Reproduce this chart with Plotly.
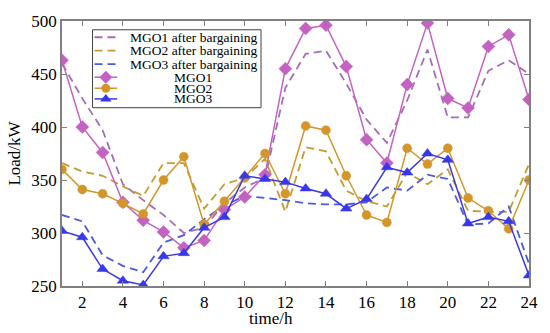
import plotly.graph_objects as go

hours = list(range(1, 25))

mgo1 = [463, 400, 376, 329, 312, 301, 286, 293, 322, 334, 355, 455,
        493, 496, 457, 388, 366, 440, 498, 427, 418, 476, 487, 426]
mgo1_bargain = [460, 427, 397, 346, 331, 317, 300, 305, 328, 343, 352, 437,
                469, 472, 441, 407, 385, 425, 473, 409, 409, 453, 463, 450]

mgo2 = [360, 341, 337, 328, 318, 350, 372, 308, 330, 352, 375, 337,
        401, 397, 354, 317, 310, 380, 365, 380, 333, 321, 304, 350]
mgo2_bargain = [366, 358, 354, 344, 335, 366, 366, 323, 346, 352, 370, 320,
                381, 377, 340, 330, 325, 357, 346, 360, 321, 320, 320, 365]

mgo3 = [302, 296, 266, 255, 251, 278, 281, 305, 315, 354, 351, 348,
        342, 337, 323, 332, 362, 357, 375, 369, 309, 315, 311, 260]
mgo3_bargain = [317, 311, 279, 269, 263, 291, 298, 313, 326, 335, 333, 331,
                328, 327, 327, 329, 343, 340, 355, 351, 308, 309, 325, 271]

x_ticks = list(range(2, 25, 2))
y_ticks = [250, 300, 350, 400, 450, 500]

series_names = ["MGO1 after bargaining", "MGO2 after bargaining", "MGO3 after bargaining",
                "MGO1", "MGO2", "MGO3"]

FONT = "Liberation Serif"
AX = "#808080"

c1, c1d = "#C462C2", "#A56CB8"
c2, c2d = "#D4962A", "#C39C30"
c3, c3d = "#3838E6", "#4A5AE2"
DASH = "8px,5px"

fig = go.Figure()

dashed = [(mgo1_bargain, c1d), (mgo2_bargain, c2d), (mgo3_bargain, c3d)]
solid = [(mgo1, c1, "diamond", 10), (mgo2, c2, "circle", 9), (mgo3, c3, "triangle-up", 10)]

for (vals, col), name in zip(dashed, series_names[:3]):
    fig.add_trace(go.Scatter(x=hours, y=vals, mode="lines", name=name,
                             line=dict(color=col, width=1.8, dash=DASH)))
for (vals, col, sym, sz), name in zip(solid, series_names[3:]):
    fig.add_trace(go.Scatter(x=hours, y=vals, mode="lines+markers", name=name,
                             line=dict(color=col, width=1.5),
                             marker=dict(symbol=sym, size=sz, color=col,
                                         line=dict(color=col, width=0.5))))

# custom legend on an overlay axis measured in pixels of the plot area
leg_box = dict(x0=93, x1=264, y0=23, y1=103)
leg_rows = [30.7, 44.5, 58.3, 71.7, 83.0, 94.0]
leg_line_x = [95, 118]
leg_text_x = 195

styles = [(c1d, DASH, None, 0), (c2d, DASH, None, 0), (c3d, DASH, None, 0),
          (c1, "solid", "diamond", 10), (c2, "solid", "circle", 9), (c3, "solid", "triangle-up", 10)]
for yrow, (col, dash, sym, sz), name in zip(leg_rows, styles, series_names):
    fig.add_trace(go.Scatter(x=leg_line_x, y=[yrow, yrow], mode="lines", xaxis="x2", yaxis="y2",
                             line=dict(color=col, width=1.8 if dash != "solid" else 1.5, dash=dash),
                             hoverinfo="skip", showlegend=False))
    if sym:
        fig.add_trace(go.Scatter(x=[sum(leg_line_x) / 2], y=[yrow], mode="markers",
                                 xaxis="x2", yaxis="y2",
                                 marker=dict(symbol=sym, size=sz, color=col),
                                 hoverinfo="skip", showlegend=False))
    fig.add_annotation(x=leg_text_x, y=yrow, xref="x2", yref="y2", text=name,
                       showarrow=False, xanchor="center", yanchor="middle",
                       font=dict(family=FONT, size=13.5, color="black"))

fig.add_shape(type="rect", xref="x2", yref="y2", **leg_box,
              line=dict(color="#404040", width=1), fillcolor="rgba(0,0,0,0)")

fig.add_annotation(x=(274 - 62) / 474, y=(286 - 319) / 272, xref="paper", yref="paper",
                   text="time/h", showarrow=False, xanchor="center", yanchor="middle",
                   font=dict(family=FONT, size=17, color="black"))

fig.update_layout(
    width=550, height=333,
    margin=dict(l=62, r=14, t=14, b=47),
    paper_bgcolor="white", plot_bgcolor="white",
    showlegend=False,
    font=dict(family=FONT, size=17, color="black"),
    xaxis=dict(range=[1, 24], tickvals=x_ticks, ticks="inside", ticklen=5,
               tickcolor=AX, tickwidth=1.2, showline=True, linecolor=AX, linewidth=1.5,
               mirror="ticks", showgrid=False, zeroline=False,
               tickfont=dict(family=FONT, size=17, color="black")),
    yaxis=dict(range=[250, 500], tickvals=y_ticks, ticks="inside", ticklen=5,
               tickcolor=AX, tickwidth=1.2, showline=True, linecolor=AX, linewidth=1.5,
               mirror="ticks", showgrid=False, zeroline=False,
               title=dict(text="Load/kW", font=dict(family=FONT, size=17, color="black"), standoff=6),
               tickfont=dict(family=FONT, size=17, color="black")),
    xaxis2=dict(range=[62, 536], overlaying="x", visible=False, fixedrange=True),
    yaxis2=dict(range=[286, 14], overlaying="y", visible=False, fixedrange=True),
)

fig.write_html("out.html",
               config={"displayModeBar": False},
               post_script="document.body.style.margin='0';document.body.style.padding='0';")
